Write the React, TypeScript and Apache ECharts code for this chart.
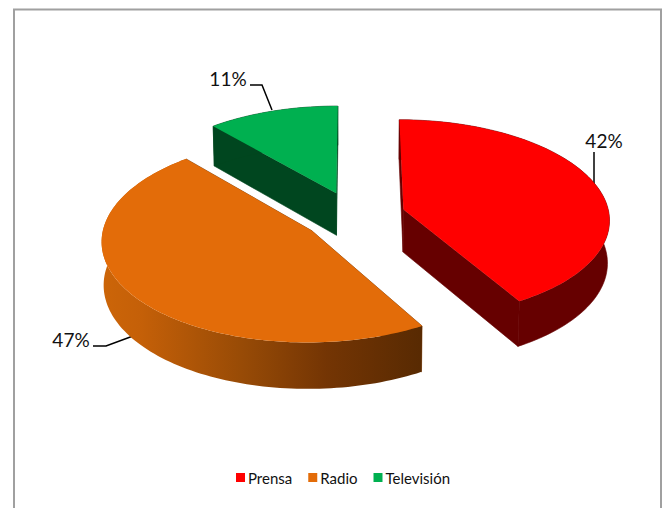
import React, { useEffect, useRef } from "react";
import * as echarts from "echarts";

const categories = ["Prensa", "Radio", "Televisión"];
const shares = [41.6, 47.0, 11.4];
const topColors = ["#FF0000", "#E36C09", "#00B050"];
const wallColors = ["#660000", "#7A3A05", "#00461F"];
const labelFont = "Lato, Carlito, sans-serif";

const centerX = 354;
const centerY = 216;
const radiusX = 206;
const radiusY = 99;
const tilt = 0.09;
const depth = 43;
const depthShrink = 0.008;
const explode = 0.25;

const total = shares.reduce((a, b) => a + b, 0);
const startAngles = shares.map((_, i) =>
  (shares.slice(0, i).reduce((a, b) => a + b, 0) / total) * Math.PI * 2
);

function project(wx: number, wy: number, lower: boolean): number[] {
  const w = 1 - tilt * wy + (lower ? depthShrink : 0);
  return [centerX + (radiusX * wx) / w, centerY + (radiusY * wy + (lower ? depth : 0)) / w];
}

function renderSlice(index: number, value: number) {
  const start = startAngles[index];
  const sweep = (value / total) * Math.PI * 2;
  const mid = start + sweep / 2;
  const ox = explode * Math.sin(mid);
  const oy = -explode * Math.cos(mid);
  const steps = Math.max(8, Math.round(sweep * 40));
  const rim: number[][] = [];
  for (let s = 0; s <= steps; s++) {
    const a = start + (sweep * s) / steps;
    rim.push([ox + Math.sin(a), oy - Math.cos(a)]);
  }
  const upper = rim.map((p) => project(p[0], p[1], false));
  const lower = rim.map((p) => project(p[0], p[1], true));
  const cTop = project(ox, oy, false);
  const cLow = project(ox, oy, true);
  const solid = wallColors[index];
  const wallStyle: any =
    index === 1
      ? {
          fill: new echarts.graphic.LinearGradient(0, 0, 1, 0, [
            { offset: 0, color: "#CC6508" },
            { offset: 0.12, color: "#C56008" },
            { offset: 0.45, color: "#964A06" },
            { offset: 0.7, color: "#743504" },
            { offset: 1, color: "#582A02" },
          ]),
        }
      : { fill: solid, stroke: solid, lineWidth: 0.6 };
  return {
    type: "group",
    children: [
      {
        type: "polygon",
        shape: { points: [cTop, upper[0], lower[0], cLow] },
        style: { fill: solid, stroke: solid, lineWidth: 0.6 },
      },
      {
        type: "polygon",
        shape: { points: [cTop, upper[steps], lower[steps], cLow] },
        style: { fill: solid, stroke: solid, lineWidth: 0.6 },
      },
      {
        type: "polygon",
        shape: { points: upper.concat(lower.slice().reverse()) },
        style: wallStyle,
      },
      {
        type: "polygon",
        shape: { points: [cTop].concat(upper) },
        style: { fill: topColors[index] },
      },
    ],
  };
}

const pct = (v: number) => Math.round((v / total) * 100) + "%";

const labelBoxes = [
  { x: 604, y: 140, line: [[594, 152], [594, 184]] },
  { x: 71, y: 339, line: [[93, 346], [106, 346], [133, 336]] },
  { x: 228, y: 78, line: [[250, 85], [262, 85], [272, 110]] },
];

export default function App() {
  const ref = useRef<HTMLDivElement>(null);
  useEffect(() => {
    const chart = echarts.init(ref.current!, undefined, { renderer: "svg" });
    chart.setOption({
      animation: false,
      backgroundColor: "#FFFFFF",
      legend: {
        data: categories,
        left: 231,
        top: 465,
        itemWidth: 9,
        itemHeight: 9,
        itemGap: 16,
        icon: "rect",
        selectedMode: false,
        textStyle: { fontFamily: labelFont, fontSize: 15, color: "#111111", padding: [0, 0, 0, -2] },
      },
      series: categories.map((name, i) => ({
        type: "custom",
        name,
        coordinateSystem: "none",
        silent: true,
        itemStyle: { color: topColors[i] },
        data: [[shares[i]]],
        renderItem: (_p: any, api: any) => renderSlice(i, api.value(0)),
      })),
      graphic: [
        {
          type: "polyline",
          silent: true,
          shape: { points: [[14, 508], [14, 9.5], [661, 9.5], [661, 508]] },
          style: { fill: "none", stroke: "#A0A0A0", lineWidth: 2 },
        },
        ...labelBoxes.flatMap((b, i) => [
          {
            type: "text",
            silent: true,
            x: b.x,
            y: b.y,
            style: {
              text: pct(shares[i]),
              fontFamily: labelFont,
              fontSize: 19,
              fill: "#111111",
              align: "center",
              verticalAlign: "middle",
            },
          },
          {
            type: "polyline",
            silent: true,
            shape: { points: b.line },
            style: { fill: "none", stroke: "#000000", lineWidth: 1.5 },
          },
        ]),
      ],
    });
    return () => chart.dispose();
  }, []);
  return (
    <div
      ref={ref}
      style={{ position: "absolute", left: 0, top: 0, width: 665, height: 508 }}
    />
  );
}
